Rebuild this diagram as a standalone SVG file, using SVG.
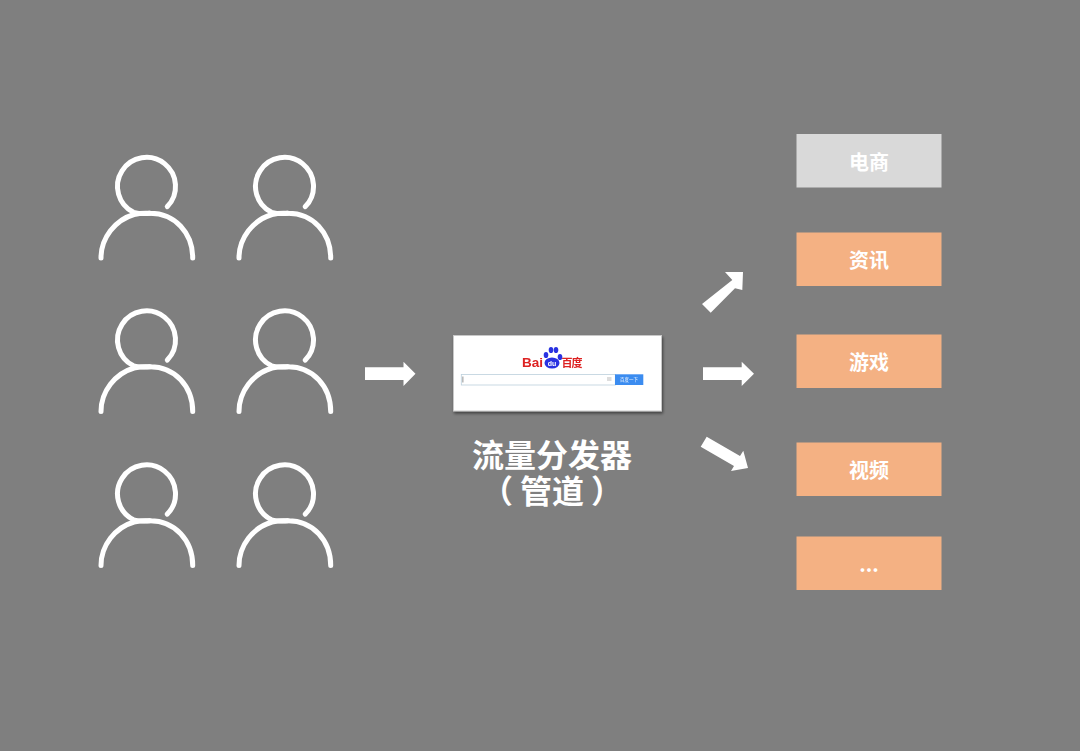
<svg xmlns="http://www.w3.org/2000/svg" width="1080" height="751" viewBox="0 0 1080 751">
<style>
.p{fill:none;stroke:#fff;stroke-width:5;stroke-linecap:round;stroke-linejoin:round}
.box{fill:#F4B183}
.grey{fill:#D9D9D9}
.lab{font-family:"Noto Sans CJK SC","Liberation Sans",sans-serif;font-weight:700;font-size:20px;fill:#fff;text-anchor:middle}
.big{font-family:"Noto Sans CJK SC","Liberation Sans",sans-serif;font-weight:700;font-size:32px;fill:#fff;text-anchor:middle}
.arr{fill:#fff}
.paw{fill:#2932E1}
.red{fill:#DD2222;font-weight:700}
</style>
<defs>
<filter id="sh" x="-5%" y="-10%" width="110%" height="125%"><feDropShadow dx="1" dy="2" stdDeviation="1.500" flood-color="#000" flood-opacity="0.5"/></filter>
<filter id="soft" x="-5%" y="-5%" width="110%" height="110%"><feGaussianBlur stdDeviation="0.300"/></filter>
<g id="person">
<path class="p" d="M167.300 206.600A29 29 0 1 0 133.500 212.300Q141 214.200 150 213.300"/>
<path class="p" d="M101 258C101 238 115 220 134 214.500C140 213 146 213 150 213.300C175 213.300 192.700 233 192.700 258"/>
</g>
</defs>
<rect width="1080" height="751" fill="#7F7F7F"/>
<g id="user-1"><use href="#person"/></g>
<g id="user-2"><use href="#person" x="138"/></g>
<g id="user-3"><use href="#person" y="153.500"/></g>
<g id="user-4"><use href="#person" x="138" y="153.500"/></g>
<g id="user-5"><use href="#person" y="307.500"/></g>
<g id="user-6"><use href="#person" x="138" y="307.500"/></g>
<g id="connectors">
<polygon class="arr" points="365,367.300 403.500,367.300 403.500,361.700 415.500,373.700 403.500,386 403.500,380 365,380"/>
<polygon class="arr" points="703,367.300 741.700,367.300 741.700,361.700 754,373.700 741.700,386 741.700,380 703,380"/>
<polygon class="arr" points="702,304 710.700,312.700 735,288.300 742.300,290 743,272 725,272 732.300,280"/>
<polygon class="arr" points="706.700,436.700 700.700,446.700 734,466 731,471 748,468 743.300,450.700 740,456"/>
</g>
<g id="baidu">
<rect x="453.500" y="335.500" width="208" height="75.500" fill="#fff" stroke="#C8C8C8" stroke-width="1" filter="url(#sh)"/>
<g filter="url(#soft)">
<text class="red" x="522" y="367" font-family="Liberation Sans,sans-serif" font-size="13.500px" textLength="21">Bai</text>
<text class="red" x="561.500" y="367" font-family="Noto Sans CJK SC,sans-serif" font-size="11px" textLength="21">百度</text>
<ellipse class="paw" cx="546" cy="355" rx="2.300" ry="3.100"/>
<ellipse class="paw" cx="551" cy="350" rx="2.300" ry="3.100"/>
<ellipse class="paw" cx="556" cy="350" rx="2.300" ry="3.100"/>
<ellipse class="paw" cx="560" cy="357" rx="2.300" ry="3.100"/>
<ellipse class="paw" cx="552" cy="363" rx="7.500" ry="5.500"/>
<text x="552" y="366" font-family="Liberation Sans,sans-serif" font-size="7px" font-weight="700" fill="#fff" text-anchor="middle">du</text>
<rect x="461.300" y="374.500" width="154" height="10.500" fill="#fff" stroke="#BCD0DC" stroke-width="0.800"/>
<rect x="462.500" y="376.500" width="0.800" height="6" fill="#777"/>
<rect x="607" y="377" width="4.500" height="4" fill="#ddd"/>
<rect x="615" y="374.300" width="28.300" height="10.700" fill="#3B8CF0"/>
<text x="629" y="381.300" font-family="Noto Sans CJK SC,sans-serif" font-size="4.500px" fill="#fff" text-anchor="middle">百度一下</text>
</g>
</g>
<g id="label"><text class="big" x="552" y="466.500">流量分发器</text><text class="big" x="497" y="502.500">（</text><text class="big" x="552" y="502.500">管道</text><text class="big" x="607" y="502.500">）</text></g>
<g id="n1"><rect class="grey" x="796.500" y="134" width="145" height="53.500"/><text class="lab" x="869" y="169.500">电商</text></g>
<g id="n2"><rect class="box" x="796.500" y="232.500" width="145" height="53.500"/><text class="lab" x="869" y="267.500">资讯</text></g>
<g id="n3"><rect class="box" x="796.500" y="334.500" width="145" height="53.500"/><text class="lab" x="869" y="369.500">游戏</text></g>
<g id="n4"><rect class="box" x="796.500" y="442.500" width="145" height="53.500"/><text class="lab" x="869" y="477.500">视频</text></g>
<g id="n5"><rect class="box" x="796.500" y="536.500" width="145" height="53.500"/><text class="lab" x="869" y="571.500">...</text></g>
</svg>
